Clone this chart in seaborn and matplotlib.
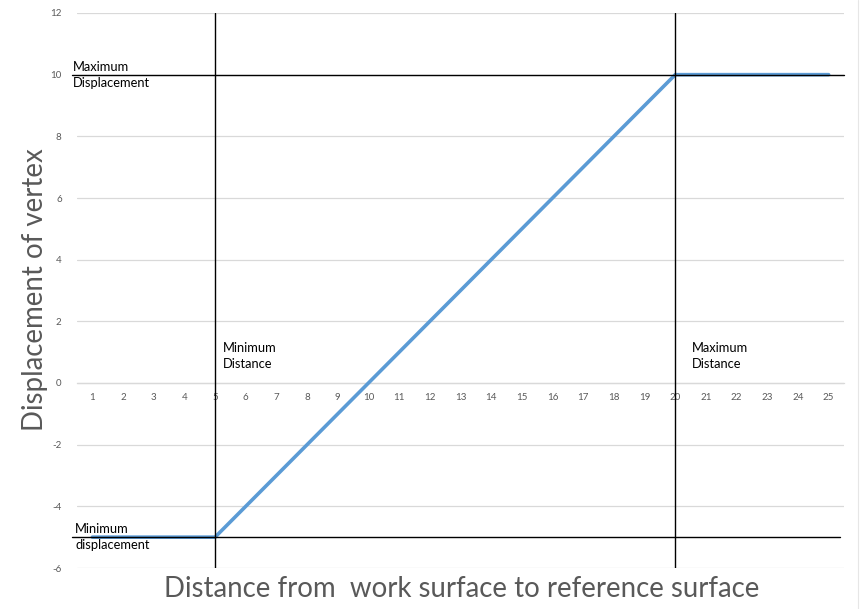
import matplotlib
matplotlib.use("Agg")
import matplotlib.pyplot as plt
from matplotlib.lines import Line2D
import seaborn as sns
import pandas as pd
import numpy as np

# ---- data ----
distance = [1, 2, 3, 4, 5, 6, 7, 8, 9, 10, 11, 12, 13, 14, 15, 16, 17, 18, 19, 20, 21, 22, 23, 24, 25]
displacement = [-5, -5, -5, -5, -5, -4, -3, -2, -1, 0, 1, 2, 3, 4, 5, 6, 7, 8, 9, 10, 10, 10, 10, 10, 10]
y_ticks = [-6, -4, -2, 0, 2, 4, 6, 8, 10, 12]
min_distance = 5
max_distance = 20
min_displacement = -5
max_displacement = 10
x_title = "Distance from  work surface to reference surface"
y_title = "Displacement of vertex"

df = pd.DataFrame({"distance": distance, "displacement": displacement})

sns.set_style("white")
plt.rcParams["font.family"] = ["Lato", "DejaVu Sans"]

fig = plt.figure(figsize=(8.6, 6.09), dpi=100)
ax = fig.add_axes([77 / 860, 1 - 568 / 609, (844 - 77) / 860, (568 - 13) / 609])

grid_c = "#d9d9d9"
tick_c = "#595959"

sns.lineplot(data=df, x="distance", y="displacement", ax=ax, color="#5b9bd5",
             linewidth=2.6, zorder=3)

ax.set_xlim(0.5, 25.5)
ax.set_ylim(-6, 12)
ax.set_yticks(y_ticks)
ax.set_yticklabels([str(v) for v in y_ticks])
ax.set_xticks(distance)
ax.set_xticklabels([str(v) for v in distance])
ax.set_xticks([d + 0.5 for d in distance[:-1]] + [0.5], minor=True)

for v in y_ticks:
    ax.axhline(v, color=grid_c, linewidth=0.9, zorder=1)

for s in ["top", "right", "left"]:
    ax.spines[s].set_visible(False)
ax.spines["bottom"].set_position(("data", 0))
ax.spines["bottom"].set_color(grid_c)
ax.spines["bottom"].set_linewidth(0.9)

ax.tick_params(axis="x", which="major", length=0, labelsize=7, labelcolor=tick_c, pad=7)
ax.tick_params(axis="x", which="minor", length=4, color=grid_c, direction="inout", width=0.9)
ax.tick_params(axis="y", length=0, labelsize=7, labelcolor=tick_c, pad=11)

# reference lines
ax.axvline(min_distance, color="black", linewidth=1.0, zorder=4)
ax.axvline(max_distance, color="black", linewidth=1.0, zorder=4)
ax.axhline(max_displacement, xmin=-0.007, xmax=1.0, color="black", linewidth=1.0, zorder=4, clip_on=False)
ax.axhline(min_displacement, xmin=-0.007, xmax=0.995, color="black", linewidth=1.0, zorder=4, clip_on=False)

txt_kw = dict(fontsize=9.3, color="black", linespacing=1.38, va="center", ha="left", zorder=5)
ax.text(0.38, max_displacement, "Maximum\nDisplacement", **txt_kw)
ax.text(0.44, min_displacement, "Minimum\ndisplacement", **txt_kw)
ax.text(min_distance + 0.27, 0.88, "Minimum\nDistance", **txt_kw)
ax.text(max_distance + 0.55, 0.88, "Maximum\nDistance", **txt_kw)

ax.set_xlabel("")
ax.set_ylabel("")
fig.text(462 / 860, 1 - 589 / 609, x_title, fontsize=19.9, color=tick_c, ha="center", va="center")
fig.text(35 / 860, 1 - 290 / 609, y_title, fontsize=19.9, color=tick_c, ha="center", va="center",
         rotation=90)

# faint chart-area border on the right edge
fig.add_artist(Line2D([857.5 / 860, 857.5 / 860], [0, 1], transform=fig.transFigure,
                      color="#e6e6e6", linewidth=0.8))

fig.savefig("out.png", dpi=100)
